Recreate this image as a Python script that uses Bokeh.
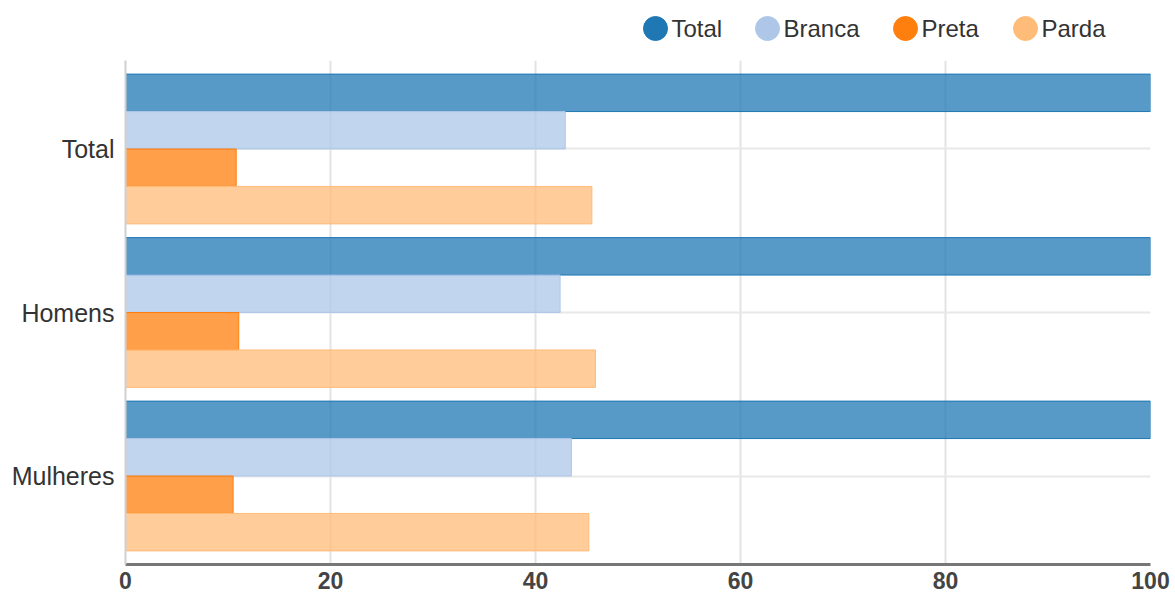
from bokeh.plotting import figure
from bokeh.models import ColumnDataSource, Range1d, FactorRange, FixedTicker
from bokeh.layouts import column
from bokeh.core.properties import value
from bokeh.transform import dodge
from bokeh.embed import file_html
from bokeh.resources import INLINE

categories = ["Total", "Homens", "Mulheres"]
series_names = ["Total", "Branca", "Preta", "Parda"]
total = [100, 100, 100]
branca = [42.9, 42.4, 43.5]
preta = [10.8, 11.05, 10.5]
parda = [45.5, 45.85, 45.2]
colors = ["#1f77b4", "#aec7e8", "#ff7f0e", "#ffbb78"]
x_ticks = [0, 20, 40, 60, 80, 100]

# legend layout (page pixels of the legend strip)
legend_x = [655, 767, 905, 1025]

FRAME_LEFT = 125
FRAME_RIGHT = 1150

source = ColumnDataSource(data=dict(cat=categories, Total=total, Branca=branca, Preta=preta, Parda=parda))

# ---- legend strip (frame aligned with main chart frame, x in page pixels) ----
leg = figure(width=1175, height=60, output_backend="svg", toolbar_location=None,
             x_range=Range1d(FRAME_LEFT, FRAME_RIGHT), y_range=Range1d(60, 0),
             x_axis_type=None, y_axis_type=None,
             min_border=0, min_border_left=FRAME_LEFT, min_border_right=1175 - FRAME_RIGHT,
             min_border_top=0, min_border_bottom=0)
leg.outline_line_color = None
leg.xgrid.visible = False
leg.ygrid.visible = False
leg_src = ColumnDataSource(data=dict(x=legend_x, y=[28] * 4, tx=[v + 16 for v in legend_x],
                                     name=series_names, color=colors))
leg.scatter(x="x", y="y", marker="circle", size=24, fill_color="color", line_color="color", source=leg_src)
leg.text(x="tx", y="y", text="name", source=leg_src, text_font=value("Liberation Sans"),
         text_font_size="24px", text_color="#333333", text_baseline="middle", text_align="left")

# ---- main chart ----
p = figure(width=1175, height=534, output_backend="svg", toolbar_location=None,
           x_range=Range1d(0, 100),
           y_range=FactorRange(factors=list(reversed(categories)), range_padding=0.0275),
           min_border_left=FRAME_LEFT, min_border_right=1175 - FRAME_RIGHT,
           min_border_top=0, min_border_bottom=30)
p.outline_line_color = None
p.background_fill_color = "white"

bar_h = 0.229
offsets = [0.3435, 0.1145, -0.1145, -0.3435]
for name, col, off in zip(series_names, colors, offsets):
    p.hbar(y=dodge("cat", off, range=p.y_range), left=0, right=name, height=bar_h, source=source,
           fill_color=col, fill_alpha=0.75, line_color=col, line_alpha=1.0, line_width=1)

# grids
p.xgrid.ticker = FixedTicker(ticks=x_ticks)
p.xgrid.grid_line_color = "#e3e3e3"
p.xgrid.grid_line_width = 2
p.ygrid.grid_line_color = "#e8e8e8"
p.ygrid.grid_line_width = 2

# x axis
p.xaxis.ticker = FixedTicker(ticks=x_ticks)
p.xaxis.axis_line_color = "#777777"
p.xaxis.axis_line_width = 3
p.xaxis.major_tick_line_color = None
p.xaxis.minor_tick_line_color = None
p.xaxis.major_label_text_font = "Liberation Sans"
p.xaxis.major_label_text_font_size = "23px"
p.xaxis.major_label_text_font_style = "bold"
p.xaxis.major_label_text_color = "#444444"
p.xaxis.major_label_standoff = 1

# y axis
p.yaxis.axis_line_color = "#d0d0d0"
p.yaxis.axis_line_width = 2
p.yaxis.major_tick_line_color = None
p.yaxis.minor_tick_line_color = None
p.yaxis.major_label_text_font = "Liberation Sans"
p.yaxis.major_label_text_font_size = "25px"
p.yaxis.major_label_text_color = "#333333"
p.yaxis.major_label_standoff = 5

layout = column(leg, p, spacing=0)
open("out.html", "w").write(file_html(layout, INLINE))
